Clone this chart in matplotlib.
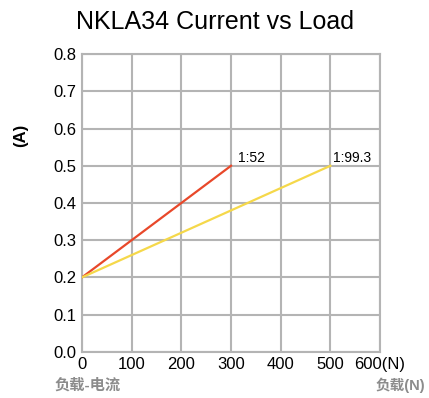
import matplotlib
matplotlib.use("Agg")
import matplotlib.pyplot as plt

plt.rcParams['font.family'] = ['Liberation Sans', 'Noto Sans CJK SC', 'DejaVu Sans']

# Données
load_52 = [0, 300]
current_52 = [0.2, 0.5]
load_993 = [0, 500]
current_993 = [0.2, 0.5]
x_ticks = [0, 100, 200, 300, 400, 500, 600]
x_labels = ["0", "100", "200", "300", "400", "500", "600(N)"]
y_ticks = [0.0, 0.1, 0.2, 0.3, 0.4, 0.5, 0.6, 0.7, 0.8]

grid_col = "#b4b4b4"

fig = plt.figure(figsize=(4.29, 3.98), dpi=100)
ax = fig.add_axes([0.191, 0.116, 0.695, 0.748])

ax.plot(load_52, current_52, color="#e8482a", lw=1.6, zorder=3)
ax.plot(load_993, current_993, color="#f5d84a", lw=1.6, zorder=3)

ax.annotate("1:52", (load_52[-1], current_52[-1]), xytext=(5, 3),
            textcoords="offset points", fontsize=10)
ax.annotate("1:99.3", (load_993[-1], current_993[-1]), xytext=(2, 3),
            textcoords="offset points", fontsize=10)

ax.set_xlim(0, 600)
ax.set_ylim(0, 0.8)
ax.set_xticks(x_ticks)
ax.set_xticklabels(x_labels)
ax.set_yticks(y_ticks)
ax.set_yticklabels([f"{v:.1f}" for v in y_ticks])
ax.tick_params(labelsize=12, length=0, pad=4)
ax.grid(True, color=grid_col, lw=1.5)
for s in ax.spines.values():
    s.set_color(grid_col)
    s.set_linewidth(1.5)

fig.text(0.5, 0.945, "NKLA34 Current vs Load", ha="center", va="center", fontsize=18)
fig.text(0.047, 0.66, "(A)", rotation=90, ha="center", va="center",
         fontsize=12, fontweight="bold")
fig.text(0.128, 0.032, "负载-电流", ha="left", va="center", fontsize=11,
         color="#8c8c8c", fontweight="bold")
fig.text(0.99, 0.032, "负载(N)", ha="right", va="center", fontsize=10.5,
         color="#8c8c8c", fontweight="bold")

plt.savefig("out.png", dpi=100)
